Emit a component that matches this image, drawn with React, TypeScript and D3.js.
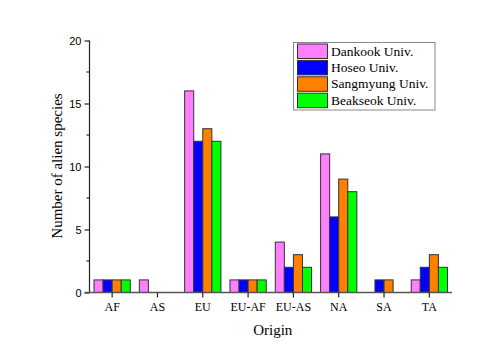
import React, { useEffect, useRef } from 'react'
import * as d3 from 'd3'

const origins = ['AF', 'AS', 'EU', 'EU-AF', 'EU-AS', 'NA', 'SA', 'TA']
const universities = ['Dankook Univ.', 'Hoseo Univ.', 'Sangmyung Univ.', 'Beakseok Univ.']
const dankook = [1, 1, 16, 1, 4, 11, 0, 1]
const hoseo = [1, 0, 12, 1, 2, 6, 1, 2]
const sangmyung = [1, 0, 13, 1, 3, 9, 1, 3]
const beakseok = [1, 0, 12, 1, 2, 8, 0, 2]
const colors = ['#ff80ff', '#0000ff', '#ff8000', '#00ff00']
const yTicks = [0, 5, 10, 15, 20]
const yMinorTicks = [2.5, 7.5, 12.5, 17.5]

const W = 500
const H = 351

export default function App() {
  const ref = useRef<SVGSVGElement>(null)

  useEffect(() => {
    const svg = d3.select(ref.current)
    svg.selectAll('*').remove()

    const left = 89.5, right = 452, top = 40.5, bottom = 292.5
    const series = [dankook, hoseo, sangmyung, beakseok]

    const x = d3.scaleBand().domain(origins).range([left, right]).paddingInner(0).paddingOuter(0)
    const inner = d3.scaleBand().domain(universities).range([0, x.bandwidth() * 0.8])
    const y = d3.scaleLinear().domain([0, 20]).range([bottom, top])

    const serif = '"Liberation Serif", "Times New Roman", serif'
    const sans = '"Liberation Sans", Arial, sans-serif'

    // bars
    const groups = svg.append('g')
      .selectAll('g')
      .data(origins)
      .enter()
      .append('g')
      .attr('transform', (d) => 'translate(' + (x(d)! + x.bandwidth() * 0.1) + ',0)')

    groups.selectAll('rect')
      .data((d, i) => series.map((s, k) => ({ k, v: s[i] })).filter((e) => e.v > 0))
      .enter()
      .append('rect')
      .attr('x', (d) => inner(universities[d.k])!)
      .attr('y', (d) => y(d.v))
      .attr('width', inner.bandwidth())
      .attr('height', (d) => y(0) - y(d.v))
      .attr('fill', (d) => colors[d.k])
      .attr('stroke', '#333')
      .attr('stroke-width', 1)

    // y axis
    const yaxis = d3.axisLeft(y).tickValues(yTicks).tickSize(5).tickPadding(3)
    const gy = svg.append('g').attr('transform', 'translate(' + left + ',0)').call(yaxis)
    gy.select('.domain').attr('stroke', '#222').attr('stroke-width', 1.2).attr('d', `M0,${top}V${bottom}`)
    gy.selectAll('.tick line').attr('stroke', '#222').attr('stroke-width', 1.2)
    gy.selectAll('.tick text').attr('font-family', sans).attr('font-size', 11).attr('fill', '#000')
    gy.selectAll('.minor')
      .data(yMinorTicks)
      .enter()
      .append('line')
      .attr('class', 'minor')
      .attr('x1', -3).attr('x2', 0)
      .attr('y1', (d) => y(d)).attr('y2', (d) => y(d))
      .attr('stroke', '#222').attr('stroke-width', 1.2)

    // x axis
    const xaxis = d3.axisBottom(x).tickSize(5).tickPadding(5)
    const gx = svg.append('g').attr('transform', 'translate(0,' + bottom + ')').call(xaxis)
    gx.select('.domain').attr('stroke', '#555').attr('stroke-width', 1.5).attr('d', `M${left - 5},0H${right}`)
    gx.selectAll('.tick line').attr('stroke', '#222').attr('stroke-width', 1.2)
    gx.selectAll('.tick text').attr('font-family', serif).attr('font-size', 12).attr('fill', '#000')

    // titles
    svg.append('text')
      .attr('x', (left + right) / 2 + 2)
      .attr('y', 335)
      .attr('text-anchor', 'middle')
      .attr('font-family', serif)
      .attr('font-size', 15)
      .text('Origin')

    svg.append('text')
      .attr('transform', 'translate(61.5,166) rotate(-90)')
      .attr('text-anchor', 'middle')
      .attr('font-family', serif)
      .attr('font-size', 15)
      .text('Number of alien species')

    // legend
    const lg = svg.append('g').attr('transform', 'translate(293.5,42.5)')
    lg.append('rect')
      .attr('width', 141.5).attr('height', 67.5)
      .attr('fill', '#fff').attr('stroke', '#888').attr('stroke-width', 1)
    const rows = lg.selectAll('.row')
      .data(universities)
      .enter()
      .append('g')
      .attr('class', 'row')
      .attr('transform', (d, i) => 'translate(4,' + (1.5 + i * 16.4) + ')')
    rows.append('rect')
      .attr('width', 30).attr('height', 14.5)
      .attr('fill', (d, i) => colors[i])
      .attr('stroke', '#333').attr('stroke-width', 1)
    rows.append('text')
      .attr('x', 33.5).attr('y', 11.5)
      .attr('font-family', serif)
      .attr('font-size', 13.5)
      .text((d) => d)
  }, [])

  return (
    <svg ref={ref} width={W} height={H} style={{ position: 'absolute', left: 0, top: 0, background: '#fff' }} />
  )
}
